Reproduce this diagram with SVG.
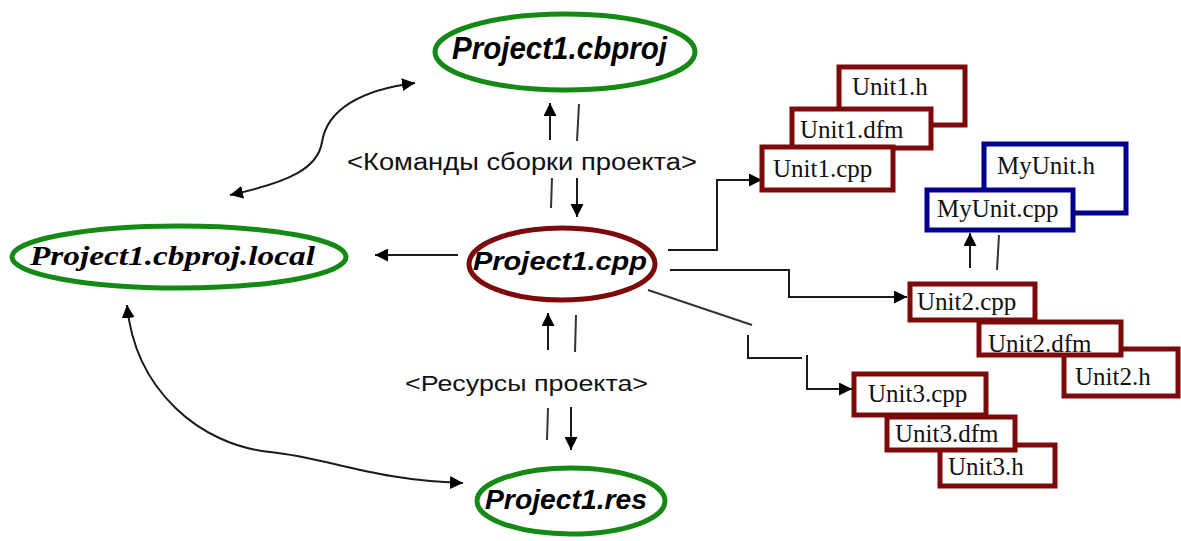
<svg xmlns="http://www.w3.org/2000/svg" width="1181" height="541" viewBox="0 0 1181 541">
  <style>
    .ell { fill: #ffffff; stroke-width: 5; }
    .green { stroke: #148a14; }
    .red { stroke: #7d0a0a; }
    .box { fill: #ffffff; stroke-width: 5; }
    .blue { stroke: #00008c; }
    .title { font-family: "Liberation Sans", Arial, sans-serif; font-weight: bold; font-style: italic; fill: #000; }
    .serif-title { font-family: "Liberation Serif", "Times New Roman", serif; font-weight: bold; font-style: italic; fill: #000; }
    .file { font-family: "Liberation Serif", "Times New Roman", serif; font-size: 25px; fill: #111; }
    .label { font-family: "Liberation Sans", Arial, sans-serif; fill: #111; }
    .conn { fill: none; stroke: #1a1a1a; stroke-width: 2; }
    .thin { fill: none; stroke: #333; stroke-width: 2; }
  </style>
  <defs>
    <marker id="ah" viewBox="0 0 12 12" refX="12" refY="6" markerWidth="13" markerHeight="13" markerUnits="userSpaceOnUse" orient="auto-start-reverse">
      <path d="M0,0 L12,6 L0,12 z" fill="#000"/>
    </marker>
  </defs>

  <!-- connectors -->
  <g id="connectors">
    <!-- project file <-> local settings -->
    <path class="conn" d="M 230,195 C 290,182 318,168 322,142 C 327,110 360,90 415,83" marker-start="url(#ah)" marker-end="url(#ah)"/>
    <!-- local settings <-> resources -->
    <path class="conn" d="M 127,305 C 135,390 200,445 270,452 C 330,458 370,480 463,483" marker-start="url(#ah)" marker-end="url(#ah)"/>
    <!-- build commands -->
    <path class="conn" d="M 550,140 L 550,103" marker-end="url(#ah)"/>
    <path class="thin" d="M 579,104 L 577,141"/>
    <path class="conn" d="M 577,178 L 577,217" marker-end="url(#ah)"/>
    <path class="thin" d="M 552,178 L 551,208"/>
    <!-- resources -->
    <path class="conn" d="M 548,350 L 548,313" marker-end="url(#ah)"/>
    <path class="thin" d="M 576,315 L 575,352"/>
    <path class="conn" d="M 571,407 L 571,450" marker-end="url(#ah)"/>
    <path class="thin" d="M 548,408 L 547,440"/>
    <!-- main -> local -->
    <path class="conn" d="M 458,255 L 375,255" marker-end="url(#ah)"/>
    <!-- main -> units -->
    <path class="conn" d="M 668,250 H 717 V 180 H 762" marker-end="url(#ah)"/>
    <path class="conn" d="M 670,270 H 789 V 297 H 907" marker-end="url(#ah)"/>
    <path class="thin" d="M 648,290 L 752,325"/>
    <path class="conn" d="M 748,335 V 358 H 802"/>
    <path class="conn" d="M 807,355 V 389 H 852" marker-end="url(#ah)"/>
    <!-- Unit2 -> MyUnit -->
    <path class="conn" d="M 970,268 L 970,233" marker-end="url(#ah)"/>
    <path class="thin" d="M 999,235 L 997,270"/>
  </g>

  <!-- labels -->
  <text class="label" x="347" y="170" font-size="23" textLength="350" lengthAdjust="spacingAndGlyphs">&lt;Команды сборки проекта&gt;</text>
  <text class="label" x="405" y="391" font-size="22" textLength="243" lengthAdjust="spacingAndGlyphs">&lt;Ресурсы проекта&gt;</text>

  <g id="project-cbproj">
    <ellipse class="ell green" cx="565" cy="52" rx="130" ry="38"/>
    <text class="title" x="452" y="59" font-size="31" textLength="215" lengthAdjust="spacingAndGlyphs">Project1.cbproj</text>
  </g>

  <g id="project-local">
    <ellipse class="ell green" cx="179" cy="257" rx="167" ry="31"/>
    <text class="serif-title" x="30" y="265" font-size="28" textLength="285" lengthAdjust="spacingAndGlyphs">Project1.cbproj.local</text>
  </g>

  <g id="project-cpp">
    <ellipse class="ell red" cx="562" cy="264" rx="93" ry="36"/>
    <text class="title" x="473" y="270" font-size="26" textLength="174" lengthAdjust="spacingAndGlyphs">Project1.cpp</text>
  </g>

  <g id="project-res">
    <ellipse class="ell green" cx="571" cy="501" rx="94" ry="33"/>
    <text class="title" x="485" y="509" font-size="27" textLength="162" lengthAdjust="spacingAndGlyphs">Project1.res</text>
  </g>

  <g id="unit1">
    <rect class="box red" x="839" y="67" width="126" height="58"/>
    <text class="file" x="852" y="95">Unit1.h</text>
    <rect class="box red" x="792" y="109" width="139" height="39"/>
    <text class="file" x="800" y="138">Unit1.dfm</text>
    <rect class="box red" x="762" y="147" width="131" height="43"/>
    <text class="file" x="773" y="177">Unit1.cpp</text>
  </g>

  <g id="myunit">
    <rect class="box blue" x="984" y="144" width="142" height="69"/>
    <text class="file" x="997" y="174">MyUnit.h</text>
    <rect class="box blue" x="927" y="190" width="146" height="40"/>
    <text class="file" x="937" y="217">MyUnit.cpp</text>
  </g>

  <g id="unit2">
    <rect class="box red" x="1064" y="349" width="114" height="47"/>
    <text class="file" x="1075" y="385">Unit2.h</text>
    <rect class="box red" x="979" y="322" width="142" height="33"/>
    <rect class="box red" x="910" y="284" width="125" height="36"/>
    <text class="file" x="917" y="310">Unit2.cpp</text>
    <text class="file" x="988" y="352">Unit2.dfm</text>
  </g>

  <g id="unit3">
    <rect class="box red" x="940" y="445" width="115" height="41"/>
    <text class="file" x="948" y="475">Unit3.h</text>
    <rect class="box red" x="887" y="417" width="128" height="33"/>
    <text class="file" x="895" y="442">Unit3.dfm</text>
    <rect class="box red" x="854" y="374" width="132" height="41"/>
    <text class="file" x="868" y="402">Unit3.cpp</text>
  </g>
</svg>
